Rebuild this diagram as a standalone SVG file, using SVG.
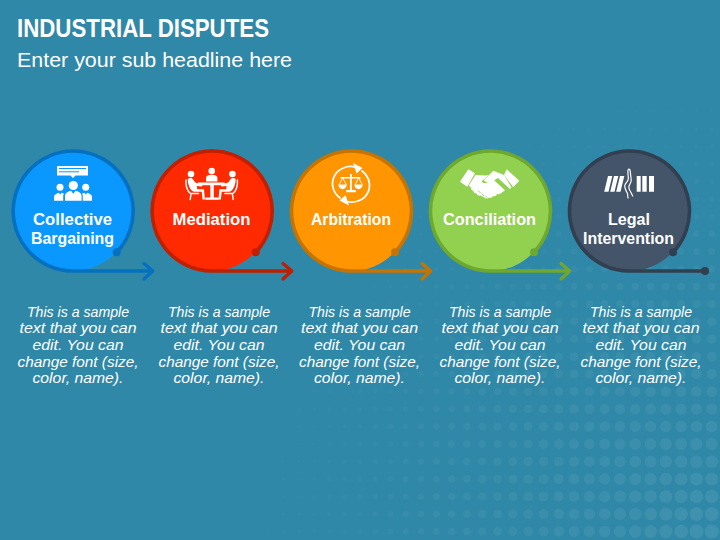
<svg xmlns="http://www.w3.org/2000/svg" width="720" height="540" viewBox="0 0 720 540">
<style>
text{fill:#fff;font-family:"Liberation Sans",Arial,sans-serif;text-anchor:middle}
.title{font-size:25.500px;font-weight:700;text-anchor:start}
.sub{font-size:20.500px;text-anchor:start}
.lab{font-size:16.500px;font-weight:700}
.body{font-size:14px;font-style:italic}
.ring{fill:none;stroke-width:3.6}
.head{fill:none;stroke-width:3.2;stroke-linecap:round;stroke-linejoin:round}
.ico{fill:#fff}
.icl{fill:none;stroke:#fff;stroke-linecap:round;stroke-linejoin:round}
</style>
<defs>
<radialGradient id="dot" cx="0.5" cy="0.5" r="0.5" gradientUnits="objectBoundingBox"><stop offset="0" stop-color="#f00"/><stop offset="1" stop-color="#000"/></radialGradient>
<pattern id="grid" patternUnits="userSpaceOnUse" x="704.05" y="522.75" width="15.3" height="17.5"><rect width="15.3" height="17.5" fill="#000"/><circle cx="7.65" cy="8.75" r="8" fill="url(#dot)"/></pattern>
<radialGradient id="size" gradientUnits="userSpaceOnUse" cx="711" cy="533" r="577"><stop offset="0" stop-color="#00f000"/><stop offset="1" stop-color="#000"/></radialGradient>
<radialGradient id="fadeL" gradientUnits="userSpaceOnUse" cx="711" cy="533" r="490"><stop offset="0" stop-color="#fff"/><stop offset=".5" stop-color="#888"/><stop offset="1" stop-color="#111"/></radialGradient>
<mask id="fm" maskUnits="userSpaceOnUse" x="0" y="0" width="720" height="540"><rect width="720" height="540" fill="url(#fadeL)"/></mask>
<filter id="half" filterUnits="userSpaceOnUse" x="0" y="0" width="720" height="540" color-interpolation-filters="sRGB"><feColorMatrix type="matrix" values="0 0 0 0 1 0 0 0 0 1 0 0 0 0 1 10 10 0 0 -10"/></filter>
</defs>
<rect id="background" width="720" height="540" fill="#2f88a7"/>
<g id="halftone" mask="url(#fm)" opacity=".08"><g filter="url(#half)"><rect width="720" height="540" fill="url(#grid)"/><rect width="720" height="540" fill="url(#size)" style="mix-blend-mode:screen"/></g></g>
<g id="heading"><text class="title" x="17" y="37" textLength="252" lengthAdjust="spacingAndGlyphs">INDUSTRIAL DISPUTES</text><text class="sub" x="17" y="66.500" textLength="275" lengthAdjust="spacingAndGlyphs">Enter your sub headline here</text></g>

<g id="node-collective">
<circle cx="72.700" cy="211" r="60" fill="#0a98ff"/>
<path class="ico" d="M57 166h31v9.500h-12.500l-2.500 2.500-2.500-2.500h-13.500z"/><path d="M59 168.500h27M59 171.800h20" stroke="#0a98ff" stroke-width="1" fill="none"/>
<circle class="ico" cx="73.300" cy="185.500" r="4.600"/><circle class="ico" cx="60" cy="187.300" r="3.500"/><circle class="ico" cx="85.700" cy="187.300" r="3.500"/>
<path class="ico" d="M65 200.700v-5c0-3 4-4.500 6-5l2.300 3 2.300-3c2 .5 6 2 6 5v5zM54 200.700v-4c0-2 3-3.500 5-4l1 2 1.500-2 2.500 1c-.8 1-.8 2-.8 3v4zM92 200.700v-4c0-2-3-3.500-5-4l-1 2-1.500-2-2.500 1c.8 1 .8 2 .8 3v4z"/>
<text class="lab" x="72.500" y="224.500" textLength="79" lengthAdjust="spacingAndGlyphs">Collective</text><text class="lab" x="72.500" y="244" textLength="83" lengthAdjust="spacingAndGlyphs">Bargaining</text>
<text class="body" x="78" y="316.500" textLength="102" lengthAdjust="spacingAndGlyphs">This is a sample</text><text class="body" x="78" y="333" textLength="117" lengthAdjust="spacingAndGlyphs">text that you can</text><text class="body" x="78" y="350" textLength="91" lengthAdjust="spacingAndGlyphs">edit. You can</text><text class="body" x="78" y="366.500" textLength="121" lengthAdjust="spacingAndGlyphs">change font (size,</text><text class="body" x="78" y="383" textLength="91" lengthAdjust="spacingAndGlyphs">color, name).</text>
</g>

<g id="node-mediation">
<circle cx="211.700" cy="211" r="60" fill="#ff2a00"/>
<circle class="ico" cx="211.700" cy="171" r="3.300"/><circle class="ico" cx="191" cy="174" r="3.300"/><circle class="ico" cx="232.400" cy="174" r="3.300"/>
<path class="ico" d="M206 181.500v-3.800c0-1.900 2.300-3 5.700-3s5.700 1.100 5.700 3v3.800zM198 182.500h26.800v2.800h-11v12.200h5v2.200h-13.500v-2.200h5v-12.200h-12.300z"/>
<path class="ico" d="M187.700 179c1.500-1.300 4-1.300 5 0l2.500 3.500 7.300 2.300-.6 1.700-5-.6.300 3.300h6.800l.9 10.300h-2.400l-.8-7.800h-7.200c-4 0-6.800-7-6.800-12.700zM235.700 179c-1.500-1.300-4-1.300-5 0l-2.500 3.500-7.300 2.300.6 1.700 5-.6-.3 3.300h-6.800l-.9 10.300h2.400l.8-7.800h7.200c4 0 6.800-7 6.800-12.700z"/>
<path class="icl" stroke-width="1.500" d="M186 180c-.5 5 1 11 4.500 13.500h8M191 194l-.8 5.500M237.400 180c.5 5-1 11-4.500 13.500h-8M232.400 194l.8 5.500"/>
<text class="lab" x="211.500" y="224.500" textLength="78" lengthAdjust="spacingAndGlyphs">Mediation</text>
<text class="body" x="219" y="316.500" textLength="102" lengthAdjust="spacingAndGlyphs">This is a sample</text><text class="body" x="219" y="333" textLength="117" lengthAdjust="spacingAndGlyphs">text that you can</text><text class="body" x="219" y="350" textLength="91" lengthAdjust="spacingAndGlyphs">edit. You can</text><text class="body" x="219" y="366.500" textLength="121" lengthAdjust="spacingAndGlyphs">change font (size,</text><text class="body" x="219" y="383" textLength="91" lengthAdjust="spacingAndGlyphs">color, name).</text>
</g>

<g id="node-arbitration">
<circle cx="351" cy="211" r="60" fill="#ff9500"/>
<path class="icl" stroke-width="1.800" d="M340 198c-8-6-9.500-16-5-23 3.500-6 12-10 20-8M362 171c8 6 9.500 16 5 23-3.500 6-12 9.500-20 7.500"/>
<path class="ico" d="M353 163l9.500 5-6 5.500zM349 205.500l-9.500-5 6-5.500z"/>
<path class="ico" d="M350 174h1.800v16h4v2.200h-9.600v-2.200h3.800zM340.500 177h20v1.400h-20z"/>
<path class="icl" stroke-width=".9" d="M342.500 178l-3.500 7h7zM358.500 178l-3.500 7h7z"/><path class="ico" d="M338.500 185h8c0 5.500-8 5.500-8 0zM354.500 185h8c0 5.500-8 5.500-8 0z"/>
<text class="lab" x="351" y="224.500" textLength="80" lengthAdjust="spacingAndGlyphs">Arbitration</text>
<text class="body" x="359.500" y="316.500" textLength="102" lengthAdjust="spacingAndGlyphs">This is a sample</text><text class="body" x="359.500" y="333" textLength="117" lengthAdjust="spacingAndGlyphs">text that you can</text><text class="body" x="359.500" y="350" textLength="91" lengthAdjust="spacingAndGlyphs">edit. You can</text><text class="body" x="359.500" y="366.500" textLength="121" lengthAdjust="spacingAndGlyphs">change font (size,</text><text class="body" x="359.500" y="383" textLength="91" lengthAdjust="spacingAndGlyphs">color, name).</text>
</g>

<g id="node-conciliation">
<circle cx="490" cy="211" r="60" fill="#92d050"/>
<path class="ico" d="M460 181.700l8.300-12.400 6.700 4-7.700 13.400zM519.300 180.700l-12.600-11.400-2.700 5.700 9.300 12.300z"/>
<path class="ico" d="M475.500 175l9.500.6 3.500-.3-7 6.200c1.500 2 4.500 2 6.500.8l5-3 12 11-5.500 4-2.500-.3c-.5 2-2.500 2.500-4 2-.5 1.800-2.500 2.200-4 1.500-1 1.300-2.500 1.300-4 .5l-2.500-1.500-2-1c-2 .5-3.500-.5-4-2-1.500 0-3-1-3-2.500-1.500-.3-2.500-1.500-2.300-3l-2.500-2.600z"/>
<path class="ico" d="M484 180l9.300-9.300 10.700 4.300 7.500 12.500-1.500 1.500-12-11-5.500 3.300c-2.500 1.300-6 1.700-8.500-.8z"/>
<path d="M478 190.500l2.500 2.500M481.500 193.500l2.500 2.500M485.500 196l2 1.800" stroke="#92d050" stroke-width=".9" fill="none"/>
<text class="lab" x="489.500" y="224.500" textLength="93" lengthAdjust="spacingAndGlyphs">Conciliation</text>
<text class="body" x="500" y="316.500" textLength="102" lengthAdjust="spacingAndGlyphs">This is a sample</text><text class="body" x="500" y="333" textLength="117" lengthAdjust="spacingAndGlyphs">text that you can</text><text class="body" x="500" y="350" textLength="91" lengthAdjust="spacingAndGlyphs">edit. You can</text><text class="body" x="500" y="366.500" textLength="121" lengthAdjust="spacingAndGlyphs">change font (size,</text><text class="body" x="500" y="383" textLength="91" lengthAdjust="spacingAndGlyphs">color, name).</text>
</g>

<g id="node-legal">
<circle cx="629" cy="211" r="60" fill="#445469"/>
<path class="ico" d="M608 176h4.300l-3.800 15.700h-4.300zM614 176h4.300l-3.800 15.700h-4.300zM620 176h4.300l-3.800 15.700h-4.300zM636.700 176h4v15.700h-4zM642.300 176h4.400v15.700h-4.400zM649 176h5v15.700h-5z"/>
<path class="icl" stroke-width="1.200" d="M628 170c1-1.500 2-.5 2.200 1l1 9c.2 2-1 3.500-2 5.500-.8 2-.2 4 1.500 6.500l2 4M628 170c-.5 3 .5 6 .3 9-.2 2.500-3 4-3.500 6.500-.3 2 1 5 2.700 8l.5 4.500"/>
<text class="lab" x="629" y="225" textLength="42" lengthAdjust="spacingAndGlyphs">Legal</text><text class="lab" x="628.500" y="244" textLength="91" lengthAdjust="spacingAndGlyphs">Intervention</text>
<text class="body" x="641" y="316.500" textLength="102" lengthAdjust="spacingAndGlyphs">This is a sample</text><text class="body" x="641" y="333" textLength="117" lengthAdjust="spacingAndGlyphs">text that you can</text><text class="body" x="641" y="350" textLength="91" lengthAdjust="spacingAndGlyphs">edit. You can</text><text class="body" x="641" y="366.500" textLength="121" lengthAdjust="spacingAndGlyphs">change font (size,</text><text class="body" x="641" y="383" textLength="91" lengthAdjust="spacingAndGlyphs">color, name).</text>
</g>

<g id="connectors">
<g stroke="#0670c0" fill="#0670c0"><path class="ring" d="M116.700 252.300A60 60 0 1 0 72.700 271H153"/><circle cx="116.700" cy="252.300" r="4" stroke="none"/><path class="head" d="M144 263.500l8.800 7.500-8.800 8"/></g>
<g stroke="#c01f00" fill="#c01f00"><path class="ring" d="M255.700 252.300A60 60 0 1 0 211.700 271H292"/><circle cx="255.700" cy="252.300" r="4" stroke="none"/><path class="head" d="M283 263.500l8.800 7.500-8.800 8"/></g>
<g stroke="#c57400" fill="#c57400"><path class="ring" d="M395 252.300A60 60 0 1 0 351 271H431"/><circle cx="395" cy="252.300" r="4" stroke="none"/><path class="head" d="M422 263.500l8.800 7.500-8.800 8"/></g>
<g stroke="#6ea82e" fill="#6ea82e"><path class="ring" d="M534 252.300A60 60 0 1 0 490 271H570"/><circle cx="534" cy="252.300" r="4" stroke="none"/><path class="head" d="M561 263.500l8.800 7.500-8.800 8"/></g>
<g stroke="#323f50" fill="#323f50"><path class="ring" d="M673 252.300A60 60 0 1 0 629 271H705"/><circle cx="673" cy="252.300" r="4" stroke="none"/><circle cx="705" cy="271" r="4" stroke="none"/></g>
</g>
</svg>
